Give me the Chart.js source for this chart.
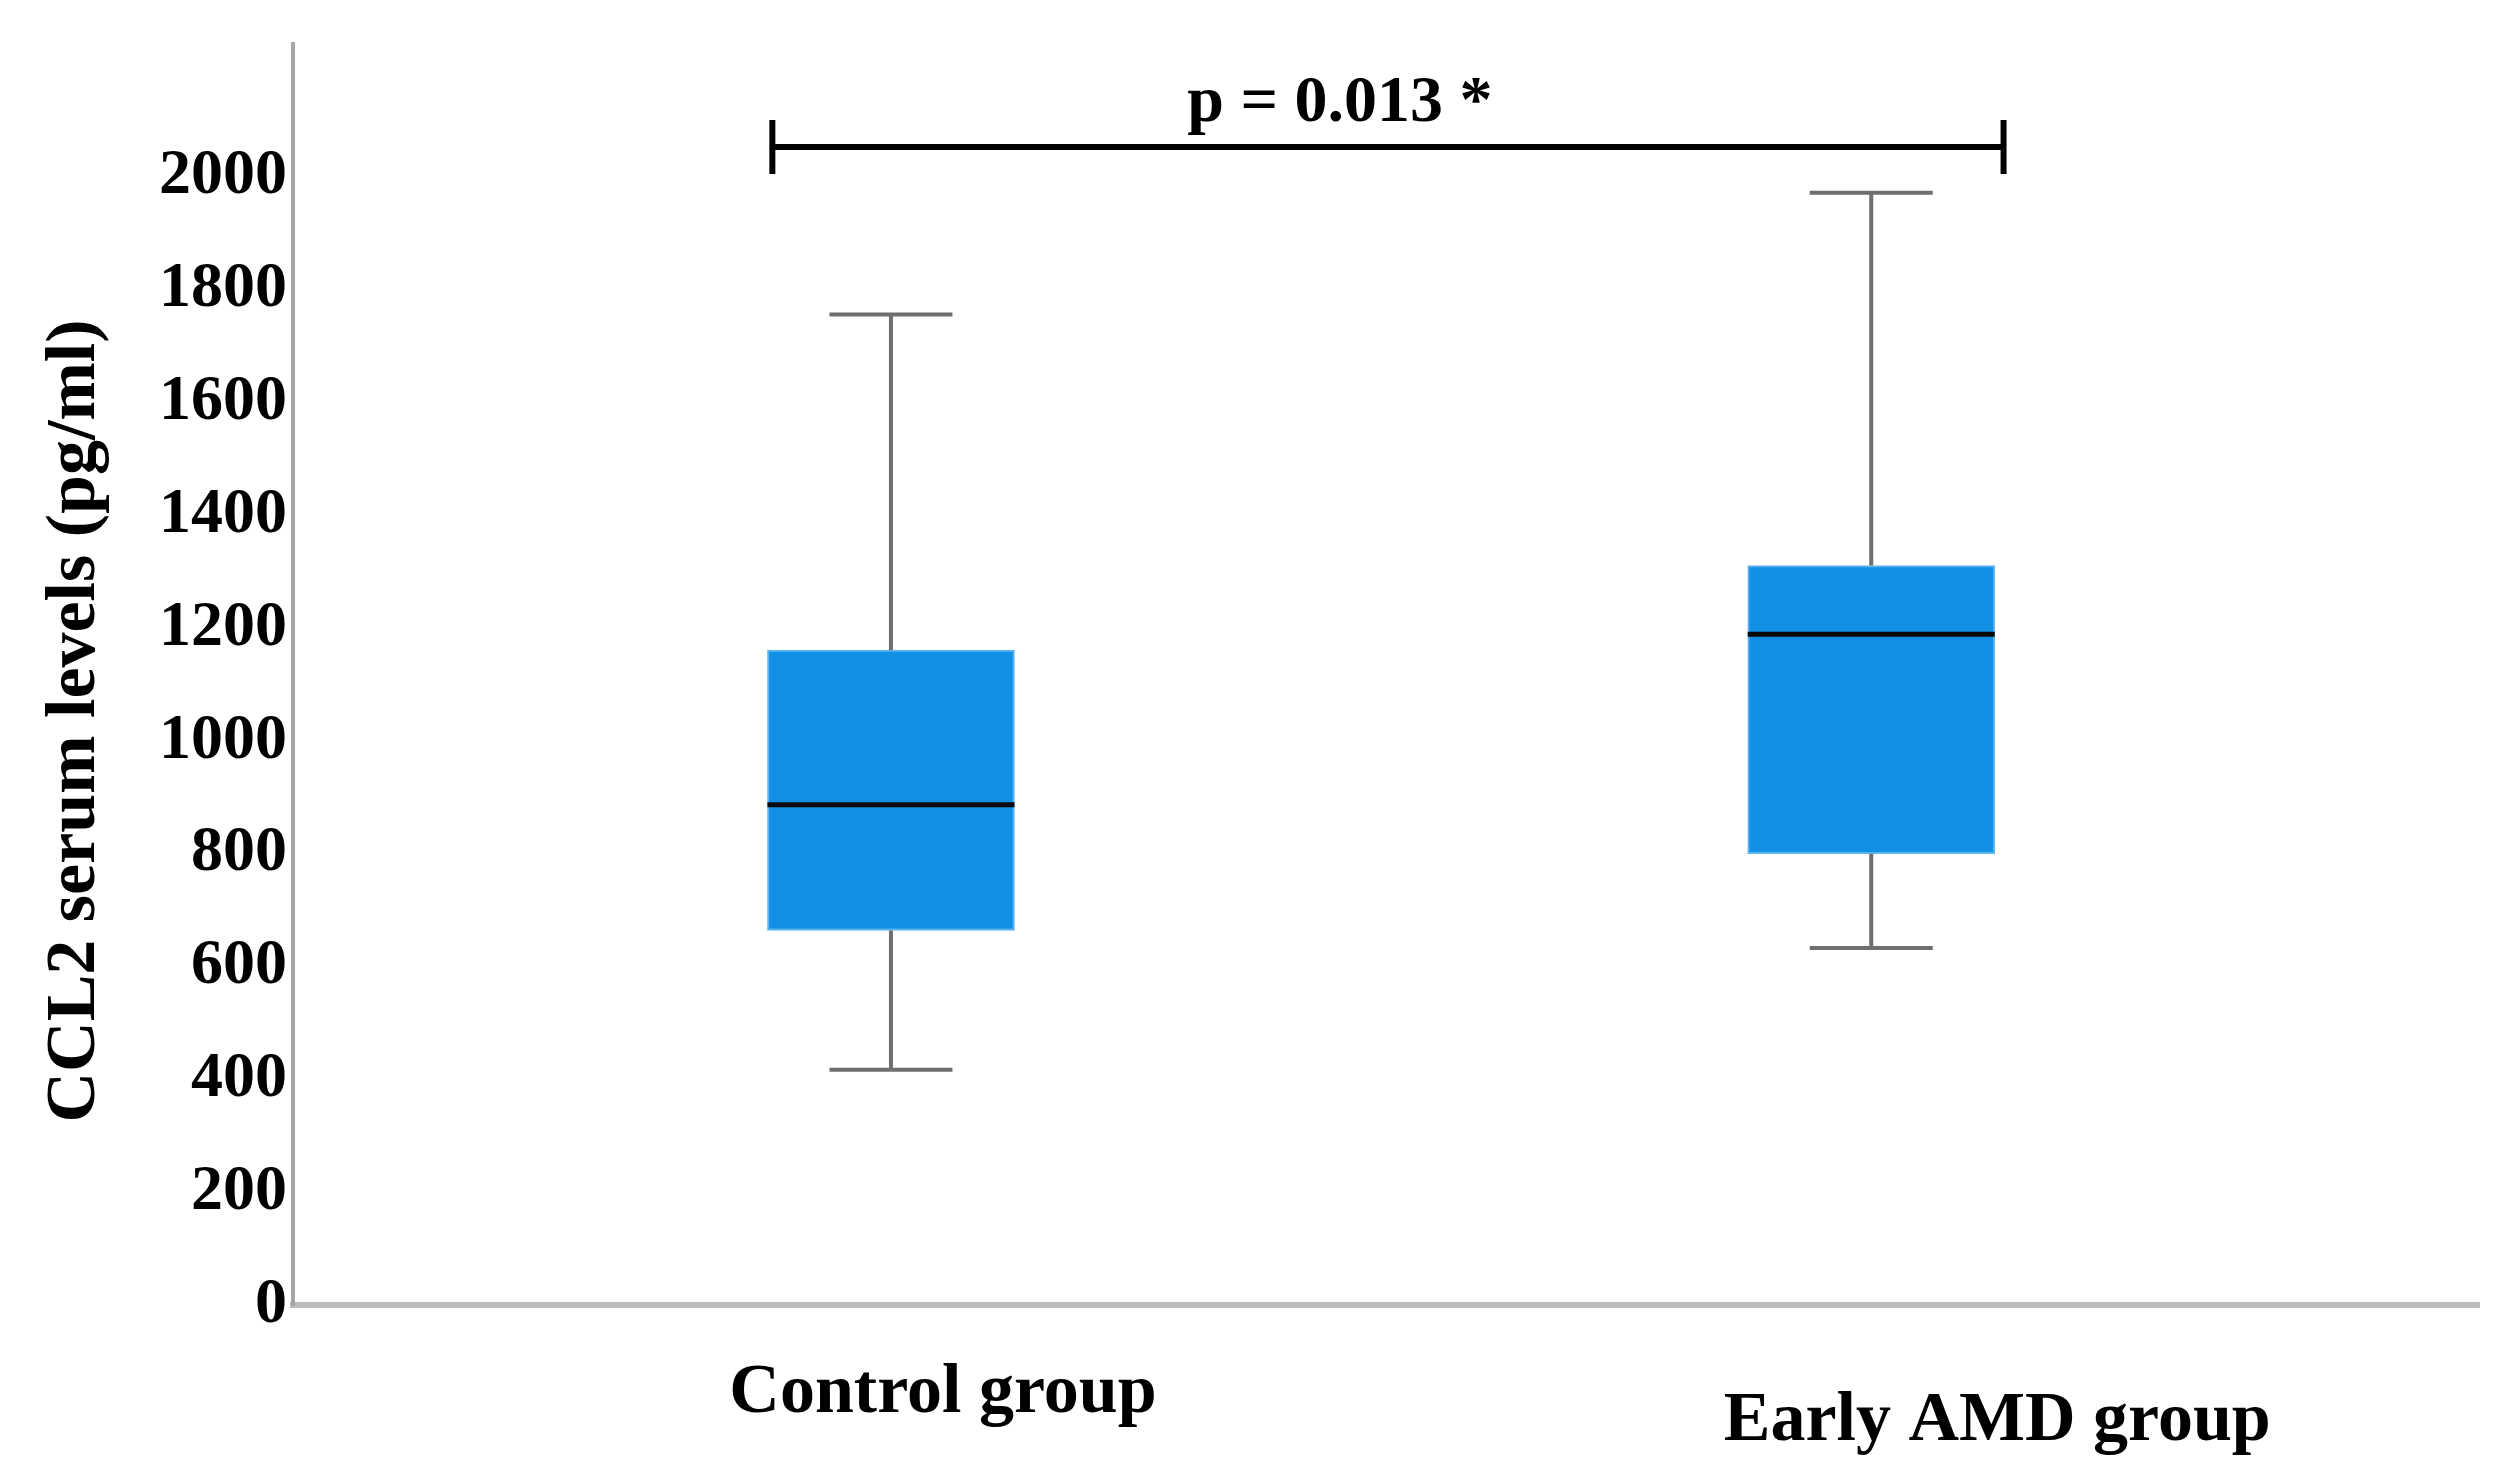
<!DOCTYPE html>
<html>
<head>
<meta charset="utf-8">
<script src="https://cdn.jsdelivr.net/npm/chart.js@4.4.1/dist/chart.umd.min.js"></script>
<style>
  html, body { margin: 0; padding: 0; background: #fff; }
  #wrap { width: 2516px; height: 1480px; }
</style>
</head>
<body>
<div id="wrap"><canvas id="box" width="2516" height="1480"></canvas></div>
<script>
  // Box plot values (pg/ml)
  var groups = ['Control group', 'Early AMD group'];
  var whiskerLow = [417, 633];
  var q1 = [664, 800];
  var median = [887, 1189];
  var q3 = [1161, 1311];
  var whiskerHigh = [1756, 1972];
  var yTicks = [0, 200, 400, 600, 800, 1000, 1200, 1400, 1600, 1800, 2000];

  // significance bracket between the two groups
  var pText = 'p = 0.013 *';
  var pLevel = 2053;

  var SERIF = "'Liberation Serif', 'DejaVu Serif', serif";
  var BOX_W = 247, CAP_W = 123;

  // whiskers, medians, bracket and labels – all placed through the chart scales
  var boxExtras = {
    id: 'boxExtras',
    afterDatasetsDraw: function (chart) {
      var ctx = chart.ctx, xs = chart.scales.x, ys = chart.scales.y;
      var area = chart.chartArea;
      ctx.save();
      groups.forEach(function (g, i) {
        var cx = xs.getPixelForValue(i + 1);
        ctx.strokeStyle = '#6f6f6f';
        ctx.lineWidth = 4;
        ctx.beginPath();
        ctx.moveTo(cx, ys.getPixelForValue(q3[i]));
        ctx.lineTo(cx, ys.getPixelForValue(whiskerHigh[i]));
        ctx.moveTo(cx, ys.getPixelForValue(q1[i]));
        ctx.lineTo(cx, ys.getPixelForValue(whiskerLow[i]));
        ctx.moveTo(cx - CAP_W / 2, ys.getPixelForValue(whiskerHigh[i]));
        ctx.lineTo(cx + CAP_W / 2, ys.getPixelForValue(whiskerHigh[i]));
        ctx.moveTo(cx - CAP_W / 2, ys.getPixelForValue(whiskerLow[i]));
        ctx.lineTo(cx + CAP_W / 2, ys.getPixelForValue(whiskerLow[i]));
        ctx.stroke();

        ctx.strokeStyle = '#0a0a0a';
        ctx.lineWidth = 5;
        ctx.beginPath();
        ctx.moveTo(cx - BOX_W / 2, ys.getPixelForValue(median[i]));
        ctx.lineTo(cx + BOX_W / 2, ys.getPixelForValue(median[i]));
        ctx.stroke();
      });

      // bracket
      var bx1 = xs.getPixelForValue(0.879), bx2 = xs.getPixelForValue(2.135);
      var by = ys.getPixelForValue(pLevel);
      ctx.strokeStyle = '#000';
      ctx.lineWidth = 6;
      ctx.beginPath();
      ctx.moveTo(bx1, by); ctx.lineTo(bx2, by);
      ctx.moveTo(bx1, by - 27); ctx.lineTo(bx1, by + 27);
      ctx.moveTo(bx2, by - 27); ctx.lineTo(bx2, by + 27);
      ctx.stroke();

      ctx.fillStyle = '#000';
      ctx.textAlign = 'center';
      ctx.textBaseline = 'alphabetic';
      ctx.font = 'bold 66px ' + SERIF;
      ctx.fillText(pText, xs.getPixelForValue(1.458), by - 26);

      // category labels (slightly offset in the original figure)
      var shift = [52, 126], drop = [107, 135];
      ctx.font = 'bold 70px ' + SERIF;
      groups.forEach(function (g, i) {
        ctx.fillText(g, xs.getPixelForValue(i + 1) + shift[i], area.bottom + drop[i]);
      });

      // y axis title
      ctx.translate(94, 721);
      ctx.rotate(-Math.PI / 2);
      ctx.fillText('CCL2 serum levels (pg/ml)', 0, 0);
      ctx.restore();
    }
  };

  new Chart(document.getElementById('box'), {
    type: 'bar',
    data: {
      datasets: [{
        data: groups.map(function (g, i) { return { x: i + 1, y: [q1[i], q3[i]] }; }),
        backgroundColor: '#1290e6',
        borderColor: '#5fb3ee',
        borderWidth: 2,
        borderSkipped: false,
        barThickness: BOX_W
      }]
    },
    options: {
      responsive: false,
      devicePixelRatio: 1,
      animation: false,
      layout: { padding: { top: 40, right: 37, left: 0, bottom: 0 } },
      plugins: { legend: { display: false }, tooltip: { enabled: false } },
      scales: {
        x: {
          type: 'linear',
          offset: false,
          min: 0.39,
          max: 2.62,
          grid: { display: false, drawTicks: false },
          ticks: { display: false },
          border: { color: '#bcbcbc', width: 6 },
          afterFit: function (s) { s.height = 175; }
        },
        y: {
          min: 0,
          max: 2235,
          afterBuildTicks: function (s) { s.ticks = yTicks.map(function (v) { return { value: v }; }); },
          grid: { display: false, drawTicks: false },
          border: { color: '#a6a6a6', width: 4 },
          ticks: {
            color: '#000',
            padding: 6,
            font: { family: SERIF, size: 64, weight: 'bold' },
            callback: function (v) { return String(v); }
          },
          afterFit: function (s) { s.width = 293; }
        }
      }
    },
    plugins: [boxExtras]
  });
</script>
</body>
</html>
